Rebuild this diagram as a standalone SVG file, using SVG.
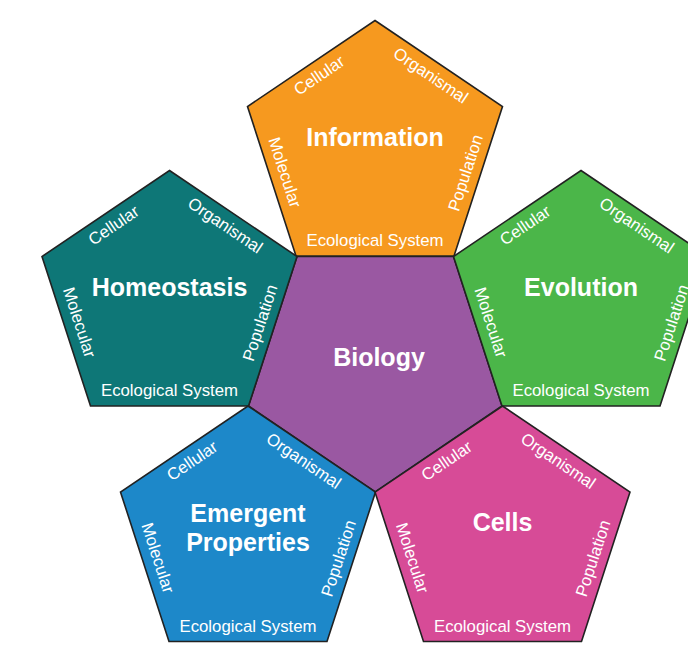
<svg xmlns="http://www.w3.org/2000/svg" xmlns:xlink="http://www.w3.org/1999/xlink" width="688" height="648" viewBox="0 0 688 648">
<style>
.p{stroke:#222;stroke-width:1.6;stroke-linejoin:miter}
.t{font-family:"Liberation Sans",Arial,sans-serif;font-weight:bold;font-size:25px;fill:#fff;text-anchor:middle}
.l{font-family:"Liberation Sans",Arial,sans-serif;font-size:16.8px;fill:#fff;text-anchor:middle}
</style>
<defs>
<polygon id="pent" points="0,0 127.5,86 79,235.5 -79,235.5 -127.5,86"/>
<g id="labels">
<text class="l" transform="translate(-52.6,59.6) rotate(-34)">Cellular</text>
<text class="l" transform="translate(52.6,59.6) rotate(34)">Organismal</text>
<text class="l" transform="translate(-95.6,153.6) rotate(72)">Molecular</text>
<text class="l" transform="translate(95.9,154.1) rotate(-72)">Population</text>
<text class="l" x="0" y="225.5">Ecological System</text>
</g>
</defs>
<rect width="688" height="648" fill="#fff"/>
<g id="biology">
<polygon class="p" fill="#9A58A2" points="297,256.5 453.5,256.5 502,406 375.25,492 248.5,406"/>
<text class="t" x="379" y="366">Biology</text>
</g>
<g id="information" transform="translate(375,20.5)">
<use xlink:href="#pent" class="p" fill="#F6991F"/>
<use xlink:href="#labels"/>
<text class="t" x="0" y="125">Information</text>
</g>
<g id="homeostasis" transform="translate(169.5,170.5)">
<use xlink:href="#pent" class="p" fill="#0E7777"/>
<use xlink:href="#labels"/>
<text class="t" x="0" y="125">Homeostasis</text>
</g>
<g id="evolution" transform="translate(581,170.5)">
<use xlink:href="#pent" class="p" fill="#4BB649"/>
<use xlink:href="#labels"/>
<text class="t" x="0" y="125">Evolution</text>
</g>
<g id="emergent" transform="translate(248,406)">
<use xlink:href="#pent" class="p" fill="#1D88C9"/>
<use xlink:href="#labels"/>
<text class="t" x="0" y="116">Emergent</text>
<text class="t" x="0" y="145">Properties</text>
</g>
<g id="cells" transform="translate(502.5,406)">
<use xlink:href="#pent" class="p" fill="#D74B97"/>
<use xlink:href="#labels"/>
<text class="t" x="0" y="125">Cells</text>
</g>
<g id="connectors"/>
</svg>
